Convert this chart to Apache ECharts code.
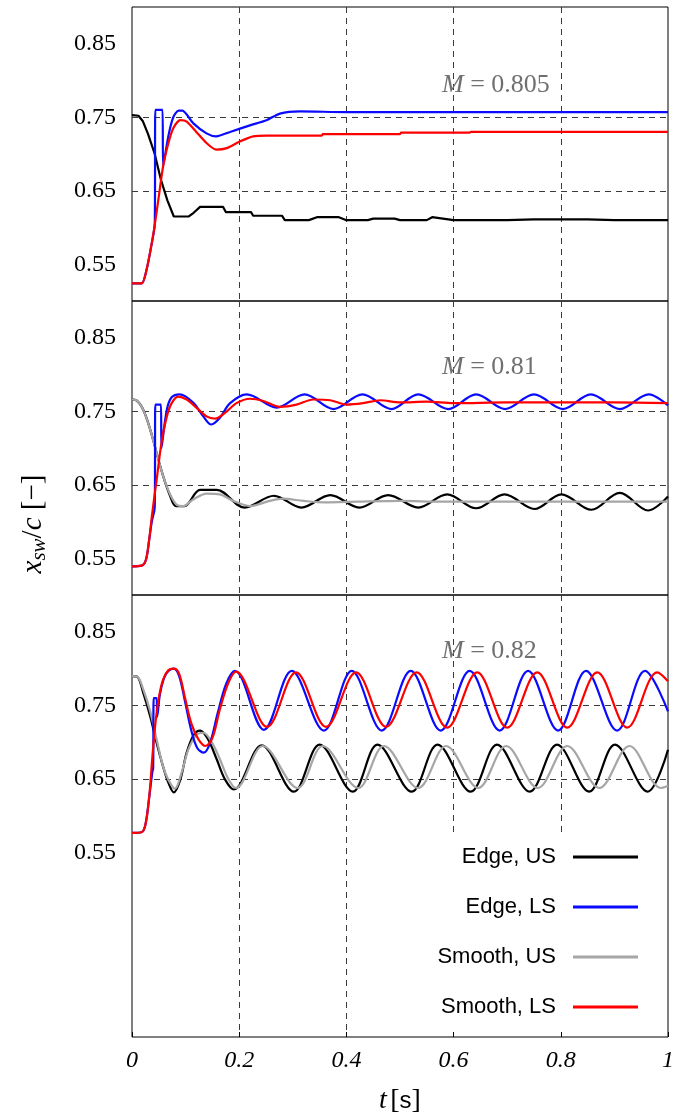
<!DOCTYPE html>
<html>
<head>
<meta charset="utf-8">
<script src="https://cdn.jsdelivr.net/npm/echarts/dist/echarts.min.js"></script>
<style>
html,body{margin:0;padding:0;background:#fff;}
#chart{width:673px;height:1117px;}
</style>
</head>
<body>
<div id="chart"></div>
<script>
// ---- data (t [s], x_sw/c) ----
const xTicks = [0, 0.2, 0.4, 0.6, 0.8, 1];
const yTicks = [0.55, 0.65, 0.75, 0.85];
const seriesNames = ['Edge, US', 'Edge, LS', 'Smooth, US', 'Smooth, LS'];
const machLabels = ['M = 0.805', 'M = 0.81', 'M = 0.82'];

// Panel 1 : M = 0.805
const p1EdgeUS = [[0,0.753],[0.012,0.752],[0.02,0.745],[0.03,0.727],[0.042,0.701],[0.054,0.665],[0.066,0.637],[0.078,0.615],[0.106,0.615],[0.115,0.62],[0.127,0.628],[0.17,0.628],[0.175,0.621],[0.222,0.621],[0.226,0.616],[0.28,0.616],[0.285,0.61],[0.33,0.61],[0.345,0.614],[0.386,0.614],[0.4,0.61],[0.44,0.61],[0.45,0.612],[0.49,0.612],[0.5,0.61],[0.55,0.61],[0.56,0.614],[0.6,0.61],[0.7,0.61],[0.75,0.611],[0.85,0.611],[0.9,0.61],[1,0.61]];
const p1EdgeLS = [[0,0.524],[0.018,0.524],[0.027,0.542],[0.036,0.575],[0.0425,0.605],[0.0435,0.76],[0.057,0.76],[0.058,0.683],[0.068,0.725],[0.077,0.75],[0.087,0.759],[0.094,0.759],[0.114,0.742],[0.139,0.728],[0.157,0.724],[0.183,0.73],[0.22,0.739],[0.251,0.746],[0.276,0.755],[0.313,0.758],[0.4,0.757],[0.5,0.757],[0.6,0.757],[0.8,0.757],[1,0.757]];
const p1SmoothLS = [[0,0.524],[0.018,0.524],[0.027,0.542],[0.04,0.592],[0.049,0.637],[0.058,0.683],[0.068,0.715],[0.077,0.735],[0.09,0.746],[0.102,0.744],[0.12,0.73],[0.139,0.715],[0.157,0.706],[0.177,0.708],[0.201,0.717],[0.226,0.724],[0.251,0.725],[0.354,0.725],[0.356,0.727],[0.5,0.727],[0.502,0.729],[0.63,0.729],[0.632,0.73],[1,0.73]];

// Panel 2 : M = 0.81
const p2EdgeUS = [[0,0.766],[0.008,0.765],[0.021,0.752],[0.034,0.725],[0.046,0.693],[0.058,0.662],[0.071,0.635],[0.082,0.621],[0.098,0.621],[0.127,0.643],[0.158,0.643],[0.21,0.619],[0.265,0.635],[0.316,0.619],[0.37,0.636],[0.424,0.619],[0.478,0.636],[0.534,0.619],[0.588,0.637],[0.642,0.618],[0.695,0.637],[0.751,0.617],[0.801,0.637],[0.857,0.616],[0.91,0.639],[0.963,0.615],[1,0.634]];
const p2SmoothUS = [[0,0.766],[0.008,0.765],[0.021,0.752],[0.034,0.725],[0.046,0.693],[0.058,0.662],[0.071,0.637],[0.083,0.623],[0.096,0.621],[0.114,0.63],[0.139,0.638],[0.164,0.637],[0.189,0.628],[0.22,0.621],[0.257,0.628],[0.282,0.631],[0.32,0.628],[0.36,0.626],[0.42,0.627],[0.5,0.628],[0.58,0.627],[0.7,0.627],[0.85,0.627],[1,0.627]];
const p2EdgeLS = [[0,0.539],[0.018,0.54],[0.026,0.548],[0.032,0.575],[0.037,0.6],[0.0425,0.62],[0.0435,0.759],[0.054,0.759],[0.055,0.70],[0.065,0.752],[0.074,0.769],[0.089,0.773],[0.115,0.761],[0.133,0.743],[0.148,0.732],[0.164,0.741],[0.183,0.761],[0.214,0.773],[0.27,0.755],[0.322,0.773],[0.376,0.753],[0.43,0.773],[0.484,0.753],[0.534,0.773],[0.59,0.753],[0.642,0.773],[0.696,0.753],[0.75,0.773],[0.804,0.753],[0.856,0.773],[0.91,0.753],[0.964,0.773],[1,0.758]];
const p2SmoothLS = [[0,0.539],[0.018,0.54],[0.026,0.548],[0.032,0.575],[0.037,0.607],[0.046,0.657],[0.055,0.707],[0.065,0.743],[0.074,0.761],[0.086,0.77],[0.102,0.766],[0.12,0.755],[0.139,0.743],[0.155,0.74],[0.174,0.748],[0.195,0.761],[0.22,0.767],[0.245,0.764],[0.276,0.756],[0.307,0.759],[0.338,0.766],[0.37,0.765],[0.4,0.759],[0.431,0.761],[0.463,0.765],[0.5,0.762],[0.55,0.763],[0.6,0.761],[0.7,0.762],[0.8,0.762],[0.9,0.762],[1,0.761]];

// Panel 3 : M = 0.82
const p3EdgeUS = [[0,0.79],[0.01,0.789],[0.021,0.767],[0.034,0.735],[0.046,0.699],[0.058,0.667],[0.068,0.645],[0.078,0.632],[0.09,0.649],[0.102,0.686],[0.115,0.71],[0.127,0.716],[0.142,0.704],[0.158,0.677],[0.174,0.649],[0.19,0.636],[0.242,0.696],[0.302,0.633],[0.35,0.697],[0.412,0.633],[0.458,0.697],[0.522,0.633],[0.57,0.697],[0.632,0.633],[0.681,0.697],[0.742,0.633],[0.793,0.697],[0.853,0.633],[0.901,0.697],[0.962,0.633],[1,0.69]];
const p3SmoothUS = [[0,0.79],[0.01,0.789],[0.021,0.772],[0.034,0.742],[0.046,0.704],[0.058,0.667],[0.068,0.649],[0.08,0.637],[0.093,0.66],[0.105,0.69],[0.12,0.71],[0.133,0.713],[0.149,0.70],[0.164,0.677],[0.18,0.65],[0.194,0.638],[0.244,0.695],[0.309,0.638],[0.356,0.695],[0.422,0.638],[0.47,0.695],[0.534,0.638],[0.586,0.695],[0.646,0.638],[0.698,0.695],[0.757,0.638],[0.812,0.695],[0.872,0.638],[0.928,0.695],[0.987,0.638],[1,0.641]];
const p3EdgeLS = [[0,0.577],[0.018,0.578],[0.025,0.588],[0.032,0.625],[0.038,0.66],[0.0395,0.665],[0.0405,0.76],[0.046,0.76],[0.047,0.735],[0.052,0.765],[0.06,0.788],[0.068,0.797],[0.078,0.80],[0.088,0.79],[0.099,0.755],[0.111,0.715],[0.122,0.692],[0.134,0.686],[0.146,0.70],[0.16,0.74],[0.176,0.78],[0.192,0.797],[0.246,0.717],[0.298,0.797],[0.358,0.716],[0.41,0.797],[0.466,0.716],[0.52,0.797],[0.576,0.716],[0.63,0.797],[0.686,0.716],[0.739,0.797],[0.795,0.716],[0.847,0.797],[0.905,0.716],[0.957,0.797],[1,0.742]];
const p3SmoothLS = [[0,0.577],[0.018,0.578],[0.025,0.588],[0.032,0.625],[0.038,0.68],[0.044,0.728],[0.05,0.76],[0.058,0.785],[0.068,0.798],[0.078,0.80],[0.088,0.793],[0.099,0.76],[0.111,0.725],[0.124,0.704],[0.137,0.695],[0.15,0.706],[0.164,0.745],[0.18,0.781],[0.194,0.796],[0.252,0.721],[0.306,0.795],[0.362,0.721],[0.418,0.795],[0.474,0.721],[0.531,0.795],[0.588,0.72],[0.644,0.795],[0.7,0.72],[0.756,0.795],[0.812,0.72],[0.868,0.795],[0.924,0.72],[0.98,0.795],[1,0.783]];

// ---- styling / layout ----
const colors = {'Edge, US':'#000000','Edge, LS':'#0a0aff','Smooth, US':'#a6a6a6','Smooth, LS':'#ff0000'};
const serif = 'Liberation Serif';
const gridDash = {color:'#3a3a3a', width:1, type:[6,5]};
const panels = [
  {top:7, height:294, ymin:0.5},
  {top:301, height:294, ymin:0.5},
  {top:595, height:442, ymin:0.3}
];

const grid = panels.map(p => ({left:132, width:536, top:p.top, height:p.height, show:true, borderColor:'#000', borderWidth:1, backgroundColor:'transparent', containLabel:false, outerBoundsMode:'none'}));
const xAxis = panels.map((p,i) => ({
  type:'value', gridIndex:i, min:0, max:1, interval:0.2,
  axisLine:{show:false},
  axisTick:{show:i===2, inside:true, length:5, lineStyle:{color:'#000'}},
  splitLine:{show:true, showMinLine:false, showMaxLine:false, lineStyle:gridDash},
  axisLabel:{show:i===2, margin:12, fontFamily:serif, fontStyle:'italic', fontSize:24, color:'#000',
    formatter: v => { const k = xTicks.find(t => Math.abs(t - v) < 1e-6); return k === undefined ? '' : String(k); }}
}));
const yAxis = panels.map((p,i) => ({
  type:'value', gridIndex:i, min:p.ymin, max:0.9,
  axisLine:{show:false},
  axisTick:{show:false, customValues:yTicks},
  splitLine:{show:true, showMinLine:false, showMaxLine:false, lineStyle:gridDash},
  axisLabel:{show:true, customValues:yTicks, margin:16, fontFamily:serif, fontSize:24, color:'#000',
    formatter: v => v.toFixed(2)}
}));

function line(name, data, idx, smooth){
  return {type:'line', name, data, xAxisIndex:idx, yAxisIndex:idx, showSymbol:false, symbol:'none',
    smooth: smooth, lineStyle:{color:colors[name], width:2.2}, itemStyle:{color:colors[name]}, animation:false, z:2};
}
const series = [
  line('Edge, US', p1EdgeUS, 0, false),
  line('Edge, LS', p1EdgeLS, 0, 0.25),
  line('Smooth, LS', p1SmoothLS, 0, 0.25),
  line('Edge, US', p2EdgeUS, 1, 0.35),
  line('Smooth, US', p2SmoothUS, 1, 0.3),
  line('Edge, LS', p2EdgeLS, 1, 0.35),
  line('Smooth, LS', p2SmoothLS, 1, 0.3),
  line('Edge, US', p3EdgeUS, 2, 0.35),
  line('Smooth, US', p3SmoothUS, 2, 0.35),
  line('Edge, LS', p3EdgeLS, 2, 0.35),
  line('Smooth, LS', p3SmoothLS, 2, 0.35)
];

const machPos = [85, 367, 651];
const graphic = machLabels.map((txt,i) => ({
  type:'text', x:442, y:machPos[i], z:10,
  style:{text:'{m|M}{n|' + txt.slice(1) + '}', verticalAlign:'middle', align:'left',
    rich:{m:{fontFamily:serif, fontStyle:'italic', fontSize:26, fill:'#707070', color:'#707070'},
          n:{fontFamily:serif, fontSize:26, fill:'#707070', color:'#707070'}}}
}));
graphic.push({
  type:'text', x:33, y:524, rotation:Math.PI/2, z:10,
  style:{text:'{i|x}{s|sw}{n|/}{i|c}{n| [\u2212]}', align:'center', verticalAlign:'middle',
    rich:{i:{fontFamily:serif, fontStyle:'italic', fontSize:29, lineHeight:34, fill:'#000', color:'#000'},
          s:{fontFamily:serif, fontStyle:'italic', fontSize:21, lineHeight:20, verticalAlign:'bottom', fill:'#000', color:'#000'},
          n:{fontFamily:serif, fontSize:29, lineHeight:34, fill:'#000', color:'#000'}}}
});
graphic.push({
  type:'text', x:400, y:1101, z:10,
  style:{text:'{i|t} {n|[}{s|s}{n|]}', align:'center', verticalAlign:'middle',
    rich:{i:{fontFamily:serif, fontStyle:'italic', fontSize:28, fill:'#000', color:'#000'},
          n:{fontFamily:serif, fontSize:28, fill:'#000', color:'#000'},
          s:{fontFamily:'Liberation Sans', fontSize:24, fill:'#000', color:'#000'}}}
});

const option = {
  backgroundColor:'#fff',
  animation:false,
  grid, xAxis, yAxis, series, graphic,
  legend:{
    data: seriesNames, orient:'vertical', align:'right', right:23, top:832,
    icon:'rect', itemWidth:65, itemHeight:3, itemGap:26,
    backgroundColor:'#fff', padding:[13,12,12,28], selectedMode:false,
    textStyle:{fontFamily:'Liberation Sans', fontSize:22, color:'#000', lineHeight:24, padding:[0,12,0,0]}
  }
};
const chart = echarts.init(document.getElementById('chart'), null, {renderer:'canvas'});
chart.setOption(option);
</script>
</body>
</html>
